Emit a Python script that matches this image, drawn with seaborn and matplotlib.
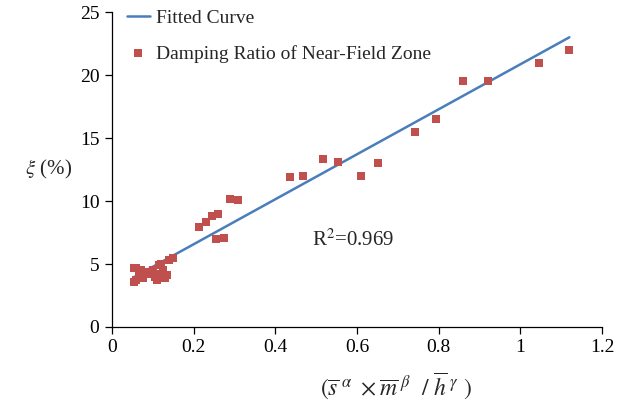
import numpy as np
import pandas as pd
import matplotlib
matplotlib.use("Agg")
import matplotlib.pyplot as plt
import seaborn as sns

# --- data ---
pts_x = [0.055, 0.060, 0.055, 0.060, 0.065, 0.070, 0.075, 0.080, 0.085, 0.090,
         0.095, 0.100, 0.105, 0.110, 0.115, 0.115, 0.120, 0.125, 0.130, 0.135,
         0.140, 0.150,
         0.213, 0.230, 0.245, 0.255, 0.260, 0.274, 0.289, 0.309,
         0.436, 0.468, 0.517, 0.554, 0.610, 0.652,
         0.741, 0.794, 0.860, 0.921, 1.046, 1.120]
pts_y = [4.7, 4.7, 3.6, 3.7, 4.2, 4.5, 3.9, 4.4, 4.3, 4.2,
         4.3, 4.5, 4.0, 3.7, 4.2, 4.9, 5.0, 4.5, 3.9, 4.1,
         5.3, 5.5,
         7.9, 8.3, 8.8, 7.0, 9.0, 7.1, 10.2, 10.1,
         11.9, 12.0, 13.3, 13.1, 12.0, 13.0,
         15.5, 16.5, 19.5, 19.5, 21.0, 22.0]
fit_x = [0.055, 1.120]
fit_y = [3.98, 23.0]
x_ticks = [0, 0.2, 0.4, 0.6, 0.8, 1.0, 1.2]
x_tick_labels = ["0", "0.2", "0.4", "0.6", "0.8", "1", "1.2"]
y_ticks = [0, 5, 10, 15, 20, 25]
r2_text = "R$^2$=0.969"
series_names = ["Fitted Curve", "Damping Ratio of Near-Field Zone"]

sns.set_style("ticks")
plt.rcParams["font.family"] = ["Liberation Serif", "DejaVu Serif"]
plt.rcParams["mathtext.fontset"] = "stix"

fig = plt.figure(figsize=(6.2, 4.04), dpi=100)
ax = fig.add_axes([0.1806, 0.1906, 0.7904, 0.7794])

line_df = pd.DataFrame({"x": fit_x, "y": fit_y})
pts_df = pd.DataFrame({"x": pts_x, "y": pts_y})

sns.lineplot(data=line_df, x="x", y="y", ax=ax, color="#4A7EBB", linewidth=1.8,
             label=series_names[0], zorder=2)
sns.scatterplot(data=pts_df, x="x", y="y", ax=ax, color="#C0504D", marker="s",
                s=36, linewidth=0, label=series_names[1], zorder=3)

ax.set_xlim(0, 1.2)
ax.set_ylim(0, 25)
ax.set_xticks(x_ticks)
ax.set_xticklabels(x_tick_labels)
ax.set_yticks(y_ticks)
ax.tick_params(axis="both", labelsize=14, direction="out", length=5,
               width=0.9, color="black", labelcolor="black", pad=4)
for sp in ["top", "right"]:
    ax.spines[sp].set_visible(False)
for sp in ["left", "bottom"]:
    ax.spines[sp].set_color("black")
    ax.spines[sp].set_linewidth(0.9)

ax.set_ylabel(r"$\xi$ (%)", rotation=0, fontsize=15, ha="center", va="center")
ax.yaxis.set_label_coords(-0.13, 0.50)
ax.set_xlabel(r"$(\overline{s}^{\ \alpha}\ \times\overline{m}^{\ \beta}\ \ /\ \overline{h}^{\ \gamma}\ )$",
              fontsize=17, ha="center", va="center")
ax.xaxis.set_label_coords(0.58, -0.19)

ax.text(0.49, 6.9, r2_text, fontsize=15, ha="left", va="center")

leg = ax.legend(loc="upper left", bbox_to_anchor=(0.006, 1.045), frameon=False,
                fontsize=14, labelspacing=0.9, handlelength=1.2,
                handletextpad=0.3, borderaxespad=0.2)

fig.savefig("out.png", dpi=100)
